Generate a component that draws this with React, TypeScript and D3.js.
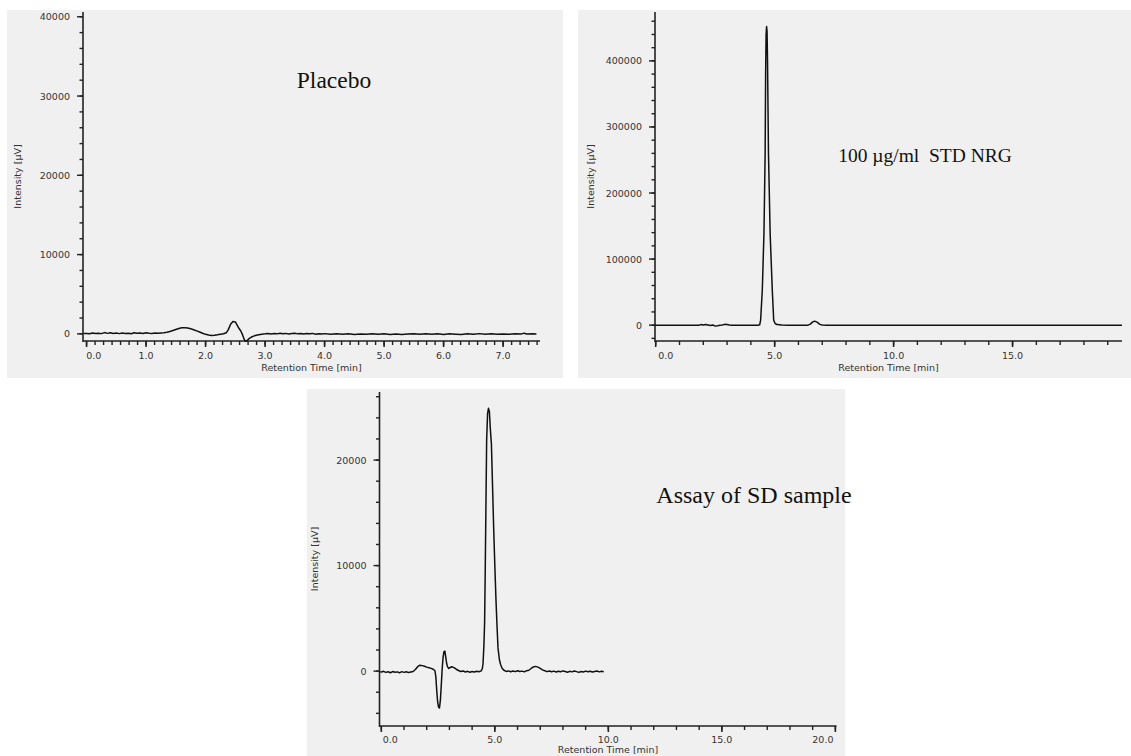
import React, { useEffect, useRef } from 'react';
import * as d3 from 'd3';

// chromatogram traces: [retention time (min), intensity (µV)]
const placeboTrace = [
  [-0.05, 40], [0.0, 60], [0.05, 20], [0.1, 110], [0.15, 40], [0.2, 90], [0.25, 30], [0.3, 160],
  [0.35, 60], [0.4, 140], [0.45, 50], [0.5, 100], [0.55, 30], [0.6, 120], [0.65, 60], [0.7, 90],
  [0.75, 20], [0.8, 130], [0.85, 70], [0.9, 100], [0.95, 40], [1.0, 150], [1.05, 80], [1.1, 60],
  [1.15, 110], [1.2, 70], [1.25, 120], [1.3, 150], [1.35, 200], [1.4, 300], [1.45, 420], [1.5, 560],
  [1.55, 680], [1.6, 760], [1.65, 780], [1.7, 740], [1.75, 640], [1.8, 520], [1.85, 380], [1.9, 240],
  [1.95, 80], [2.0, -60], [2.05, -150], [2.1, -200], [2.15, -180], [2.2, -120], [2.25, -40], [2.3, 20],
  [2.35, 150], [2.38, 500], [2.42, 1200], [2.46, 1550], [2.5, 1500], [2.53, 1100], [2.56, 700],
  [2.59, 400], [2.62, -100], [2.65, -700], [2.67, -950], [2.7, -850], [2.73, -600], [2.77, -400],
  [2.82, -250], [2.87, -150], [2.92, -80], [2.97, -30], [3.0, 0], [3.05, 60], [3.1, -10], [3.15, 50],
  [3.2, 0], [3.25, 70], [3.3, 10], [3.35, 60], [3.4, -20], [3.45, 40], [3.5, 80], [3.55, 0], [3.6, 50],
  [3.65, -30], [3.7, 40], [3.75, 0], [3.8, 60], [3.85, -40], [3.9, 20], [3.95, -20], [4.0, 30],
  [4.1, -60], [4.2, 10], [4.3, -50], [4.4, 20], [4.5, -70], [4.6, -10], [4.7, -60], [4.8, 10],
  [4.9, -40], [5.0, 20], [5.1, -80], [5.2, -30], [5.3, -90], [5.4, -20], [5.5, 10], [5.6, -60],
  [5.7, 20], [5.8, -50], [5.9, 0], [6.0, -70], [6.1, 10], [6.2, -40], [6.3, -90], [6.4, 0], [6.5, -50],
  [6.6, 30], [6.7, -40], [6.8, 10], [6.9, -60], [7.0, -10], [7.1, -50], [7.2, 20], [7.3, -30],
  [7.35, 90], [7.4, -10], [7.5, 0], [7.56, -10]
];

const standardTrace = [
  [-0.03, 0], [1.8, 0], [1.9, 800], [2.0, 300], [2.1, 900], [2.2, 200], [2.3, -500], [2.4, 300],
  [2.5, -1500], [2.6, -800], [2.7, 0], [2.8, 200], [2.9, 1200], [3.0, 900], [3.1, 300], [3.2, 0],
  [4.3, 0], [4.37, 500], [4.41, 7500], [4.48, 53000], [4.55, 139000], [4.6, 260000], [4.62, 380000],
  [4.64, 440000], [4.66, 452000], [4.68, 445000], [4.7, 400000], [4.72, 330000], [4.74, 260000],
  [4.81, 139000], [4.9, 53000], [4.96, 7500], [5.02, 2500], [5.1, 800], [5.3, 200], [5.6, 0],
  [6.4, 0], [6.5, 1500], [6.6, 5000], [6.68, 6000], [6.78, 4500], [6.9, 1200], [7.0, 200], [7.2, 0],
  [19.6, 0]
];

const sampleTrace = [
  [-0.05, -60], [0.0, -80], [0.1, -20], [0.2, -120], [0.3, -60], [0.4, -150], [0.5, -40], [0.6, -110],
  [0.7, -70], [0.8, -160], [0.9, -50], [1.0, -120], [1.1, -60], [1.2, -140], [1.3, -90], [1.4, -40],
  [1.5, 150], [1.6, 420], [1.7, 560], [1.8, 520], [1.9, 460], [2.0, 380], [2.1, 320], [2.2, 260],
  [2.3, 150], [2.36, 60], [2.4, -500], [2.44, -1800], [2.48, -2900], [2.52, -3400], [2.56, -3500],
  [2.6, -2800], [2.64, -1400], [2.68, 200], [2.72, 1300], [2.76, 1850], [2.8, 1900], [2.84, 1300],
  [2.88, 700], [2.92, 400], [2.97, 250], [3.02, 320], [3.1, 420], [3.2, 330], [3.3, 180], [3.4, 60],
  [3.5, -40], [3.6, 20], [3.7, -80], [3.8, -20], [3.9, -100], [4.0, -30], [4.1, -90], [4.2, -10],
  [4.3, -60], [4.4, 20], [4.45, 250], [4.48, 700], [4.52, 2500], [4.55, 4600], [4.58, 10000],
  [4.61, 16000], [4.64, 21900], [4.68, 24400], [4.72, 24900], [4.76, 24600], [4.8, 23000],
  [4.85, 21500], [4.9, 17500], [4.95, 13500], [5.0, 10000], [5.05, 6800], [5.09, 4600], [5.14, 2200],
  [5.2, 1100], [5.25, 650], [5.32, 280], [5.4, 80], [5.5, -30], [5.6, 20], [5.7, -60], [5.8, 10],
  [5.9, -50], [6.0, 30], [6.1, -40], [6.2, 0], [6.3, -70], [6.4, 40], [6.5, 80], [6.6, 250], [6.7, 400],
  [6.8, 450], [6.9, 380], [7.0, 260], [7.1, 120], [7.2, 40], [7.3, -50], [7.4, 10], [7.5, -60],
  [7.6, 0], [7.7, -80], [7.8, -10], [7.9, -60], [8.0, 20], [8.1, -40], [8.2, -100], [8.3, -20],
  [8.4, -70], [8.5, 10], [8.6, -50], [8.7, -120], [8.8, -30], [8.9, -80], [9.0, 0], [9.1, -60],
  [9.2, -20], [9.3, -90], [9.4, -30], [9.5, 10], [9.6, -70], [9.7, -20], [9.8, -50]
];

// axis tick labels
const placeboXLabels = [0, 1, 2, 3, 4, 5, 6, 7];
const placeboYLabels = [0, 10000, 20000, 30000, 40000];
const standardXLabels = [0, 5, 10, 15];
const standardYLabels = [0, 100000, 200000, 300000, 400000];
const sampleXLabels = [0, 5, 10, 15, 20];
const sampleYLabels = [0, 10000, 20000];

const PANELS = [
  {
    title: 'Placebo', titleX: 334, titleY: 88, titleSize: 23.5,
    trace: placeboTrace,
    bg: [7, 10, 556, 368],
    xDomain: [-0.06, 7.62], xRange: [83, 540],
    yDomain: [-900, 40600], yRange: [341, 12],
    xLabels: placeboXLabels, xMinorStep: 1 / 7, xMajorStep: 1,
    yLabels: placeboYLabels, yMinor: d3.range(0, 40001, 2000),
    yTitleX: 18, labelGap: 18, titleGap: 30
  },
  {
    title: '100 µg/ml  STD NRG', titleX: 925, titleY: 162, titleSize: 19.5,
    trace: standardTrace,
    bg: [578, 10, 553, 368],
    xDomain: [-0.03, 19.6], xRange: [655, 1122],
    yDomain: [-24000, 474000], yRange: [341, 12],
    xLabels: standardXLabels, xMinorStep: 1, xMajorStep: 5,
    yLabels: standardYLabels, yMinor: d3.range(-20000, 460001, 20000),
    yTitleX: 591, labelGap: 18, titleGap: 30
  },
  {
    title: 'Assay of SD sample', titleX: 754, titleY: 503, titleSize: 24,
    trace: sampleTrace,
    bg: [307, 389, 538, 367],
    xDomain: [-0.08, 20.05], xRange: [379.5, 836.5],
    yDomain: [-5200, 26450], yRange: [726, 392],
    xLabels: sampleXLabels, xMinorStep: 1, xMajorStep: 5,
    yLabels: sampleYLabels, yMinor: d3.range(-4000, 26001, 2000),
    yTitleX: 315, labelGap: 17, titleGap: 27
  }
];

const TICK_FONT = '"DejaVu Sans", Verdana, sans-serif';

const App = () => {
  const svgRef = useRef(null);

  useEffect(() => {
    const svg = d3.select(svgRef.current);
    svg.selectAll('*').remove();

    PANELS.forEach((p) => {
      const g = svg.append('g');
      const x = d3.scaleLinear().domain(p.xDomain).range(p.xRange);
      const y = d3.scaleLinear().domain(p.yDomain).range(p.yRange);
      const [x0, x1] = p.xRange;
      const [yb, yt] = p.yRange;

      // panel background
      g.append('rect')
        .attr('x', p.bg[0]).attr('y', p.bg[1])
        .attr('width', p.bg[2]).attr('height', p.bg[3])
        .attr('fill', '#f0f0f0');

      // y axis
      g.append('line')
        .attr('x1', x0).attr('x2', x0).attr('y1', yt).attr('y2', yb + 1)
        .attr('stroke', '#222').attr('stroke-width', 1.6);
      g.selectAll('.ymin').data(p.yMinor).enter().append('line')
        .attr('x1', x0 - 3.5).attr('x2', x0)
        .attr('y1', (d) => y(d)).attr('y2', (d) => y(d))
        .attr('stroke', '#222').attr('stroke-width', 1.4);
      g.selectAll('.ymaj').data(p.yLabels).enter().append('line')
        .attr('x1', x0 - 6).attr('x2', x0)
        .attr('y1', (d) => y(d)).attr('y2', (d) => y(d))
        .attr('stroke', '#222').attr('stroke-width', 1.4);
      g.selectAll('.ylab').data(p.yLabels).enter().append('text')
        .attr('x', x0 - 13).attr('y', (d) => y(d) + 3.5)
        .attr('text-anchor', 'end')
        .style('font-family', TICK_FONT).style('font-size', '9.5px').style('fill', '#333')
        .text((d) => d);

      // x axis
      g.append('line')
        .attr('x1', x0).attr('x2', x1).attr('y1', yb).attr('y2', yb)
        .attr('stroke', '#222').attr('stroke-width', 1.6);
      const xMinor = d3.range(0, p.xDomain[1] + 1e-6, p.xMinorStep);
      g.selectAll('.xmin').data(xMinor).enter().append('line')
        .attr('x1', (d) => x(d)).attr('x2', (d) => x(d))
        .attr('y1', yb).attr('y2', yb + 4)
        .attr('stroke', '#222').attr('stroke-width', 1.4);
      const xMajor = d3.range(0, p.xDomain[1] + 1e-6, p.xMajorStep);
      g.selectAll('.xmaj').data(xMajor).enter().append('line')
        .attr('x1', (d) => x(d)).attr('x2', (d) => x(d))
        .attr('y1', yb).attr('y2', yb + 6)
        .attr('stroke', '#222').attr('stroke-width', 1.6);
      g.selectAll('.xlab').data(p.xLabels).enter().append('text')
        .attr('x', (d) => {
          const half = d.toFixed(1).length * 2.9 + 2;
          return Math.min(Math.max(x(d), x0 + half), x1 - half);
        })
        .attr('y', yb + p.labelGap)
        .attr('text-anchor', 'middle')
        .style('font-family', TICK_FONT).style('font-size', '9.5px').style('fill', '#333')
        .text((d) => d.toFixed(1));

      // axis titles
      g.append('text')
        .attr('x', (x0 + x1) / 2).attr('y', yb + p.titleGap)
        .attr('text-anchor', 'middle')
        .style('font-family', TICK_FONT).style('font-size', '9.5px').style('fill', '#333')
        .text('Retention Time [min]');
      g.append('text')
        .attr('transform', `translate(${p.yTitleX + 3},${(yb + yt) / 2}) rotate(-90)`)
        .attr('text-anchor', 'middle')
        .style('font-family', TICK_FONT).style('font-size', '9.5px').style('fill', '#333')
        .text('Intensity [µV]');

      // trace
      const line = d3.line().x((d) => x(d[0])).y((d) => y(d[1]));
      g.append('path')
        .datum(p.trace)
        .attr('d', line)
        .attr('fill', 'none')
        .attr('stroke', '#111')
        .attr('stroke-width', 1.5)
        .attr('stroke-linejoin', 'round');

      // annotation
      g.append('text')
        .attr('x', p.titleX).attr('y', p.titleY)
        .attr('text-anchor', 'middle')
        .style('font-family', '"Liberation Serif", "Times New Roman", serif')
        .style('font-size', `${p.titleSize}px`)
        .style('white-space', 'pre')
        .style('fill', '#111')
        .text(p.title);
    });
  }, []);

  return (
    <svg
      ref={svgRef}
      width={1131}
      height={756}
      style={{ position: 'absolute', left: 0, top: 0, background: '#fff' }}
    />
  );
};

export default App;
